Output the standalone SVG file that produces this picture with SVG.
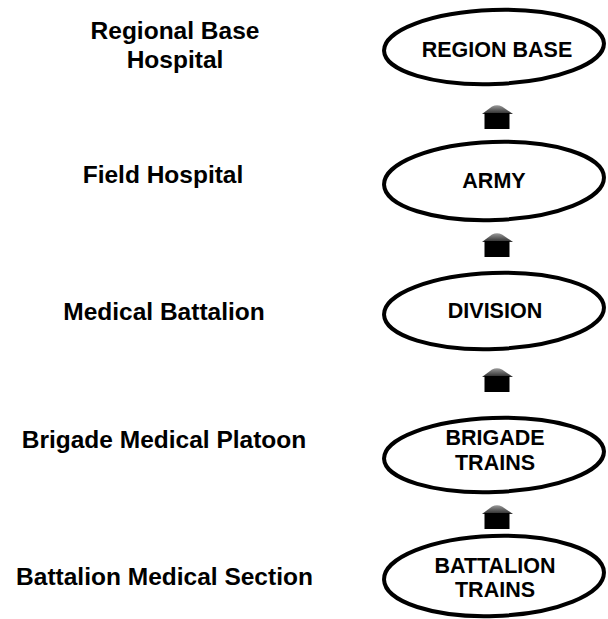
<svg xmlns="http://www.w3.org/2000/svg" width="608" height="619" viewBox="0 0 608 619">
<style>
.lbl{font-family:"Liberation Sans",Arial,Helvetica,sans-serif;font-weight:bold;font-size:24.5px;fill:#000;text-anchor:middle}
.nt{font-family:"Liberation Sans",Arial,Helvetica,sans-serif;font-weight:bold;font-size:21.5px;fill:#000;text-anchor:middle}
.ell{fill:#fff;stroke:#000;stroke-width:4}
.roof{fill:url(#rg)}
.body{fill:#000}
</style>
<defs>
<linearGradient id="rg" x1="0" y1="0" x2="0" y2="1">
<stop offset="0" stop-color="#9a9a9a"/>
<stop offset="1" stop-color="#2a2a2a"/>
</linearGradient>
<g id="house">
<path class="roof" d="M-15,9 L-5,1.5 Q0,-1 5,1.5 L16,9 Z"/>
<rect class="body" x="-12.5" y="8" width="25" height="16"/>
</g>
</defs>
<rect width="608" height="619" fill="#fff"/>
<g id="labels">
<text class="lbl" x="175" y="39">Regional Base</text>
<text class="lbl" x="175" y="68">Hospital</text>
<text class="lbl" x="163" y="183">Field Hospital</text>
<text class="lbl" x="164" y="320">Medical Battalion</text>
<text class="lbl" x="164" y="448">Brigade Medical Platoon</text>
<text class="lbl" x="164.5" y="585">Battalion Medical Section</text>
</g>
<g id="connectors">
<use href="#house" x="497" y="105"/>
<use href="#house" x="497" y="233"/>
<use href="#house" x="497" y="368"/>
<use href="#house" x="497" y="505"/>
</g>
<g id="node-region-base">
<ellipse class="ell" cx="494" cy="47" rx="110" ry="37" transform="rotate(-2 494 47)"/>
<text class="nt" x="497" y="57">REGION BASE</text>
</g>
<g id="node-army">
<ellipse class="ell" cx="494" cy="181" rx="110" ry="39" transform="rotate(-2 494 181)"/>
<text class="nt" x="494" y="188">ARMY</text>
</g>
<g id="node-division">
<ellipse class="ell" cx="494" cy="311" rx="110" ry="38" transform="rotate(-2 494 311)"/>
<text class="nt" x="495" y="318">DIVISION</text>
</g>
<g id="node-brigade-trains">
<ellipse class="ell" cx="494" cy="455" rx="110" ry="37" transform="rotate(-2 494 455)"/>
<text class="nt" x="495" y="445">BRIGADE</text>
<text class="nt" x="495" y="470">TRAINS</text>
</g>
<g id="node-battalion-trains">
<ellipse class="ell" cx="494" cy="576" rx="110" ry="40" transform="rotate(-2 494 576)"/>
<text class="nt" x="495" y="573">BATTALION</text>
<text class="nt" x="495" y="597">TRAINS</text>
</g>
</svg>
